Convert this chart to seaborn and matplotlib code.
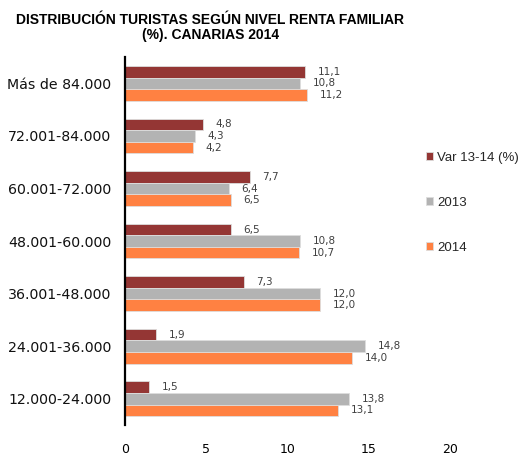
import matplotlib
matplotlib.use("Agg")
import matplotlib.pyplot as plt
import seaborn as sns
import pandas as pd

# Household income brackets (euros) and the three series shown per bracket
tramos = ["Más de 84.000", "72.001-84.000", "60.001-72.000", "48.001-60.000",
          "36.001-48.000", "24.001-36.000", "12.000-24.000"]
var_13_14 = [11.1, 4.8, 7.7, 6.5, 7.3, 1.9, 1.5]
valores_2013 = [10.8, 4.3, 6.4, 10.8, 12.0, 14.8, 13.8]
valores_2014 = [11.2, 4.2, 6.5, 10.7, 12.0, 14.0, 13.1]
series = ["Var 13-14 (%)", "2013", "2014"]
colores = ["#943634", "#B3B3B3", "#FF8142"]
x_ticks = [0, 5, 10, 15, 20]

df = pd.DataFrame({
    "tramo": tramos * 3,
    "serie": [series[0]] * 7 + [series[1]] * 7 + [series[2]] * 7,
    "valor": var_13_14 + valores_2013 + valores_2014,
})

sns.set_style("white")
plt.rcParams["font.family"] = ["DejaVu Sans"]

fig = plt.figure(figsize=(5.26, 4.57), dpi=100)
ax = fig.add_axes([0.2376, 0.0700, 0.8555 - 0.2376, 0.875 - 0.0700])

sns.barplot(data=df, y="tramo", x="valor", hue="serie", order=tramos,
            hue_order=series, palette=colores, saturation=1, orient="h",
            width=0.66, edgecolor="#dddddd", linewidth=0.6, ax=ax)

for cont in ax.containers:
    etiquetas = [f"{b.get_width():.1f}".replace(".", ",") for b in cont]
    ax.bar_label(cont, labels=etiquetas, padding=9, fontsize=7.5,
                 color="#404040")

ax.set_xlim(0, 20)
ax.set_xticks(x_ticks)
ax.set_xticklabels([str(t) for t in x_ticks])
ax.set_ylim(6.5, -0.5)
ax.set_xlabel("")
ax.set_ylabel("")
ax.tick_params(axis="x", length=0, pad=13, labelsize=9, colors="black")
ax.tick_params(axis="y", length=0, pad=10, labelsize=10.2, colors="#111111")

for lado in ["top", "right", "bottom"]:
    ax.spines[lado].set_visible(False)
ax.spines["left"].set_color("black")
ax.spines["left"].set_linewidth(1.6)

handles, labels = ax.get_legend_handles_labels()
ax.legend(handles, labels, loc="upper left", bbox_to_anchor=(0.810, 0.668),
          bbox_transform=fig.transFigure, frameon=False,
          handlelength=0.55, handleheight=0.55, handletextpad=0.3,
          borderaxespad=0, borderpad=0, labelspacing=2.5,
          prop={"family": "Liberation Sans", "size": 9.5})

fig.text(0.40, 0.972, "DISTRIBUCIÓN TURISTAS SEGÚN NIVEL RENTA FAMILIAR\n(%). CANARIAS 2014",
         ha="center", va="top", fontsize=10, fontweight="bold", color="black",
         family="Liberation Sans", linespacing=1.1)

fig.savefig("out.png", dpi=100)
